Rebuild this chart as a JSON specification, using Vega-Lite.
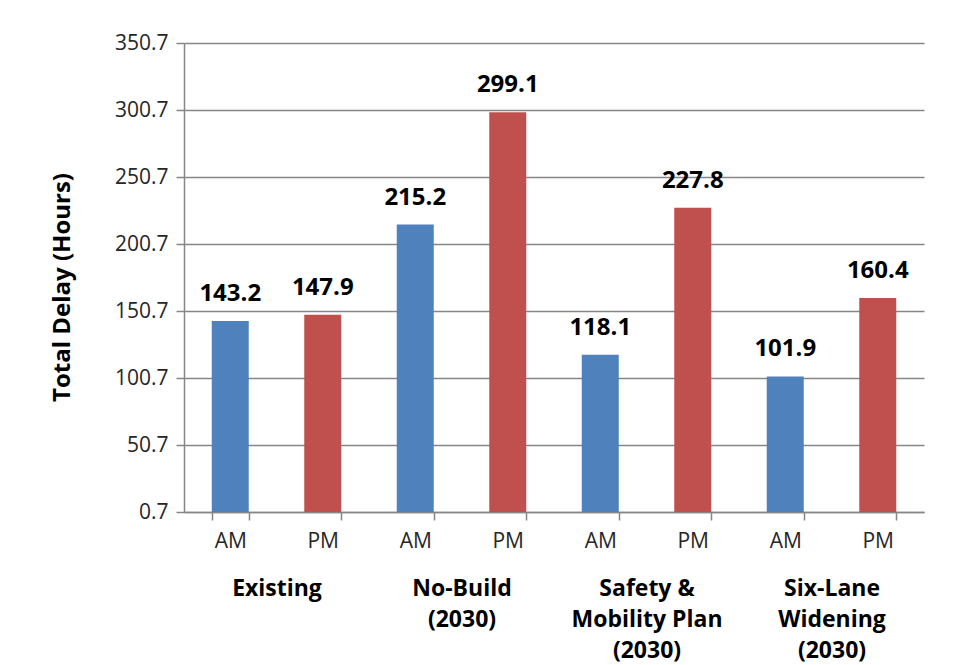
{
  "$schema": "https://vega.github.io/schema/vega-lite/v6.json",
  "autosize": "none",
  "width": 740,
  "height": 469,
  "padding": {"left": 184, "top": 43, "right": 30, "bottom": 153},
  "background": "white",
  "config": {"font": "Open Sans", "view": {"stroke": null}},
  "data": {
    "values": [
      {"group": "Existing", "period": "AM", "key": "Existing AM", "delay": 143.2},
      {"group": "Existing", "period": "PM", "key": "Existing PM", "delay": 147.9},
      {"group": "No-Build (2030)", "period": "AM", "key": "No-Build AM", "delay": 215.2},
      {"group": "No-Build (2030)", "period": "PM", "key": "No-Build PM", "delay": 299.1},
      {"group": "Safety & Mobility Plan (2030)", "period": "AM", "key": "Safety AM", "delay": 118.1},
      {"group": "Safety & Mobility Plan (2030)", "period": "PM", "key": "Safety PM", "delay": 227.8},
      {"group": "Six-Lane Widening (2030)", "period": "AM", "key": "Six-Lane AM", "delay": 101.9},
      {"group": "Six-Lane Widening (2030)", "period": "PM", "key": "Six-Lane PM", "delay": 160.4}
    ]
  },
  "layer": [
    {
      "layer": [
        {
          "mark": {"type": "bar"},
          "encoding": {
            "x": {
              "field": "key", "type": "nominal", "sort": null,
              "scale": {"paddingInner": 0.6, "paddingOuter": 0.3},
              "axis": {
                "orient": "bottom", "title": null, "labelExpr": "slice(datum.label, -2)",
                "labelAngle": 0, "labelFontSize": 21, "labelColor": "#262626",
                "tickBand": "extent", "tickSize": 8, "tickColor": "#868686", "tickWidth": 1.5,
                "domainColor": "#868686", "domainWidth": 1.5, "labelPadding": 10, "grid": false
              }
            },
            "y": {
              "field": "delay", "type": "quantitative",
              "scale": {"domain": [0.7, 350.7], "nice": false, "zero": false},
              "axis": {
                "values": [0.7, 50.7, 100.7, 150.7, 200.7, 250.7, 300.7, 350.7],
                "format": ".1f", "grid": true, "gridColor": "#868686", "gridWidth": 1.5,
                "tickSize": 8, "tickColor": "#868686", "tickWidth": 1.5,
                "domainColor": "#868686", "domainWidth": 1.5,
                "labelFontSize": 21, "labelColor": "#262626", "labelPadding": 8,
                "title": "Total Delay (Hours)", "titleFontSize": 24, "titleFontWeight": "bold",
                "titleColor": "black", "titlePadding": 40, "titleY": 244
              }
            },
            "y2": {"datum": 0.7},
            "color": {
              "field": "period", "type": "nominal",
              "scale": {"domain": ["AM", "PM"], "range": ["#4F81BD", "#C0504D"]},
              "legend": null
            }
          }
        },
        {
          "mark": {"type": "text", "fontWeight": "bold", "fontSize": 24, "baseline": "alphabetic", "dy": -20, "color": "black"},
          "encoding": {
            "x": {"field": "key", "type": "nominal", "sort": null},
            "y": {"field": "delay", "type": "quantitative"},
            "text": {"field": "delay", "type": "quantitative", "format": ".1f"}
          }
        }
      ]
    },
    {
      "mark": {"type": "text", "opacity": 0},
      "encoding": {
        "x": {
          "field": "group", "type": "nominal", "sort": null,
          "scale": {"paddingInner": 0, "paddingOuter": 0},
          "axis": {
            "orient": "bottom", "title": null, "domain": false, "ticks": false, "grid": false,
            "labelPadding": 76, "labelBaseline": "middle", "labelFontWeight": "bold",
            "labelFontSize": 23, "labelLineHeight": 31, "labelAngle": 0, "labelColor": "black",
            "labelExpr": "datum.label == 'No-Build (2030)' ? ['No-Build', '(2030)'] : datum.label == 'Safety & Mobility Plan (2030)' ? ['Safety &', 'Mobility Plan', '(2030)'] : datum.label == 'Six-Lane Widening (2030)' ? ['Six-Lane', 'Widening', '(2030)'] : datum.label"
          }
        },
        "y": {"field": "delay", "type": "quantitative"},
        "text": {"value": ""}
      }
    }
  ],
  "resolve": {"scale": {"x": "independent"}, "axis": {"x": "independent"}}
}
